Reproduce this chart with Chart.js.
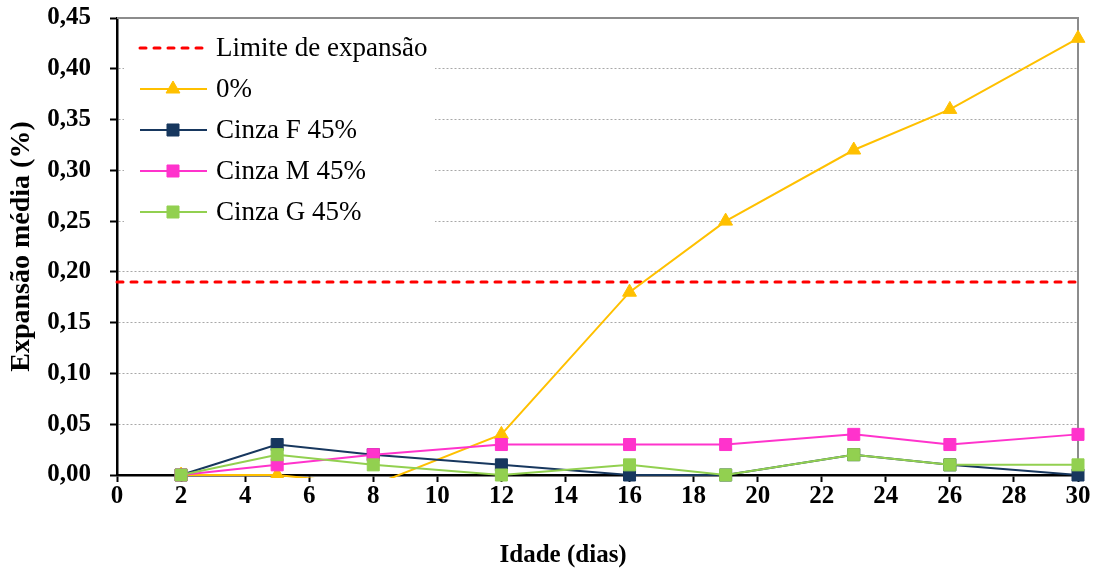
<!DOCTYPE html>
<html>
<head>
<meta charset="utf-8">
<script src="https://cdn.jsdelivr.net/npm/chart.js@4/dist/chart.umd.min.js"></script>
<style>
  html, body { margin: 0; padding: 0; background: #ffffff; }
  #wrap { width: 1099px; height: 572px; position: relative; }
</style>
</head>
<body>
<div id="wrap"><canvas id="c" width="1099" height="572"></canvas></div>
<script>
// ---- data ----
const ages = [2, 5, 8, 12, 16, 19, 23, 26, 30];
const limitAges = [0, 30];
const limitValue = 0.19;
const serie0 = [0, 0, -0.01, 0.04, 0.18, 0.25, 0.32, 0.36, 0.43];
const cinzaF = [0, 0.03, 0.02, 0.01, 0, 0, 0.02, 0.01, 0];
const cinzaM = [0, 0.01, 0.02, 0.03, 0.03, 0.03, 0.04, 0.03, 0.04];
const cinzaG = [0, 0.02, 0.01, 0, 0.01, 0, 0.02, 0.01, 0.01];
const seriesNames = ['Limite de expansão', '0%', 'Cinza F 45%', 'Cinza M 45%', 'Cinza G 45%'];
const yTickLabels = ['0,00','0,05','0,10','0,15','0,20','0,25','0,30','0,35','0,40','0,45'];
const xTitle = 'Idade (dias)';
const yTitle = 'Expansão média (%)';

const pts = (xs, ys) => xs.map((x, i) => ({ x: x, y: ys[i] }));
const FONT = "'Liberation Serif', 'Times New Roman', serif";

Chart.defaults.font.family = FONT;
Chart.defaults.color = '#000';

const framePlugin = {
  id: 'frame',
  beforeDatasetsDraw(chart) {
    const { ctx, chartArea: a } = chart;
    ctx.save();
    ctx.strokeStyle = '#8c8c8c';
    ctx.lineWidth = 2;
    ctx.beginPath();
    ctx.moveTo(a.left, a.top);
    ctx.lineTo(a.right, a.top);
    ctx.lineTo(a.right, a.bottom);
    ctx.stroke();
    ctx.restore();
  }
};

const legendPlugin = {
  id: 'innerLegend',
  afterDraw(chart) {
    const { ctx } = chart;
    ctx.save();
    ctx.fillStyle = '#ffffff';
    ctx.fillRect(124, 26, 311, 205);
    chart.data.datasets.forEach((ds, i) => {
      const y = 48 + 41 * i;
      ctx.strokeStyle = ds.borderColor;
      ctx.lineWidth = ds.borderWidth;
      ctx.lineCap = ds.borderDash ? 'round' : 'butt';
      ctx.setLineDash(ds.borderDash || []);
      ctx.beginPath();
      ctx.moveTo(140, y);
      ctx.lineTo(207, y);
      ctx.stroke();
      ctx.setLineDash([]);
      if (ds.pointRadius > 0) {
        ctx.fillStyle = ds.pointBackgroundColor;
        ctx.strokeStyle = ds.pointBorderColor;
        ctx.lineWidth = 1;
        Chart.helpers.drawPoint(ctx, { pointStyle: ds.pointStyle, radius: ds.pointRadius, borderWidth: 1, rotation: 0 }, 173, y);
      }
      ctx.fillStyle = '#000';
      ctx.font = "27px " + FONT;
      ctx.textBaseline = 'middle';
      ctx.textAlign = 'left';
      ctx.fillText(ds.label, 216, y + 1);
    });
    ctx.restore();
  }
};

const mk = (label, data, color, style, radius, order, extra) => Object.assign({
  label: label,
  data: data,
  borderColor: color,
  backgroundColor: color,
  pointBackgroundColor: color,
  pointBorderColor: color,
  pointBorderWidth: 1,
  pointStyle: style,
  pointRadius: radius,
  pointHoverRadius: radius,
  borderWidth: 2,
  tension: 0,
  fill: false,
  order: order,
  clip: false
}, extra || {});

new Chart(document.getElementById('c'), {
  type: 'line',
  data: {
    datasets: [
      mk(seriesNames[0], pts(limitAges, [limitValue, limitValue]), '#ff0000', 'line', 0, 5,
         { borderWidth: 3, borderDash: [6, 8], borderCapStyle: 'round' }),
      mk(seriesNames[1], pts(ages, serie0), '#ffc000', 'triangle', 8, 4,
         { clip: { left: false, top: false, right: false, bottom: 3 } }),
      mk(seriesNames[2], pts(ages, cinzaF), '#17375e', 'rect', 8.5, 3),
      mk(seriesNames[3], pts(ages, cinzaM), '#ff33cc', 'rect', 8.5, 2),
      mk(seriesNames[4], pts(ages, cinzaG), '#92d050', 'rect', 8.5, 1)
    ]
  },
  options: {
    responsive: false,
    animation: false,
    layout: { padding: { top: 18, right: 21, left: 0, bottom: 0 } },
    plugins: { legend: { display: false }, tooltip: { enabled: false } },
    scales: {
      x: {
        type: 'linear',
        min: 0, max: 30,
        afterFit(s) { s.height = 97; s.paddingLeft = 0; s.paddingRight = 0; },
        ticks: { stepSize: 2, padding: 0, font: { size: 25, weight: 'bold' }, color: '#000', maxRotation: 0 },
        grid: { drawOnChartArea: false, tickLength: 7, tickColor: '#000', tickWidth: 2 },
        border: { color: '#000', width: 2.5 },
        title: { display: true, text: xTitle + '\u00a0'.repeat(11), font: { size: 25, weight: 'bold' }, color: '#000', padding: { top: 0, bottom: 1 } }
      },
      y: {
        min: 0, max: 0.45,
        afterFit(s) { s.width = 117; s.paddingTop = 0; s.paddingBottom = 0; },
        ticks: {
          stepSize: 0.05, padding: 19, color: '#000',
          font: { size: 25, weight: 'bold' },
          callback: (v, i) => yTickLabels[i]
        },
        grid: {
          color: (c) => (c.tick && (c.tick.value < 0.001 || c.tick.value > 0.449)) ? 'rgba(0,0,0,0)' : '#a8a8a8',
          lineWidth: 1,
          tickLength: 7, tickColor: '#000', tickWidth: 2
        },
        border: { color: '#000', width: 2.5, dash: [2, 2] },
        title: { display: true, text: yTitle, font: { size: 28, weight: 'bold' }, color: '#000', padding: { top: 5, bottom: 0 } }
      }
    }
  },
  plugins: [framePlugin, legendPlugin]
});
</script>
</body>
</html>
